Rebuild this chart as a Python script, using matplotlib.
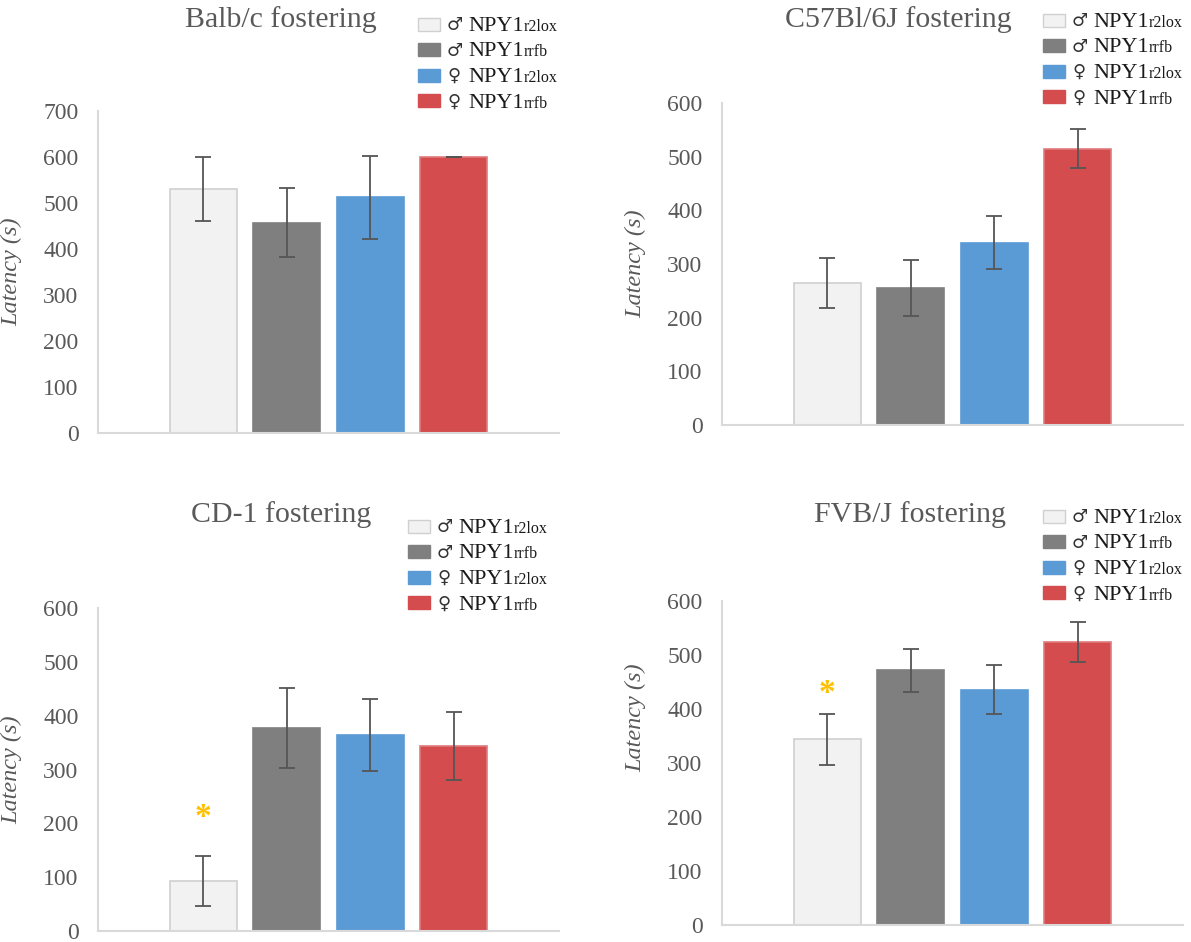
import matplotlib
matplotlib.use("Agg")
import matplotlib.pyplot as plt
from matplotlib.patches import Rectangle

W, H = 1191, 942

titles = ["Balb/c fostering", "C57Bl/6J fostering", "CD-1 fostering", "FVB/J fostering"]
sexes = ["\u2642", "\u2642", "\u2640", "\u2640"]
suffixes = ["r2lox", "rrfb", "r2lox", "rrfb"]
colors = ["#f2f2f2", "#7f7f7f", "#5b9bd5", "#d44c4e"]

balb_mean = [530, 457, 512, 600]
balb_err = [70, 75, 90, 0]
c57_mean = [265, 255, 340, 515]
c57_err = [47, 52, 50, 37]
cd1_mean = [93, 377, 364, 344]
cd1_err = [47, 74, 67, 63]
fvb_mean = [344, 472, 436, 524]
fvb_err = [47, 40, 45, 37]
y_max = [700, 600, 600, 600]
star_y = [None, None, 210, 428]   # significance star over first bar

means = [balb_mean, c57_mean, cd1_mean, fvb_mean]
errs = [balb_err, c57_err, cd1_err, fvb_err]

# layout in pixels: (left, top, right, bottom) of each plot area
axes_px = [(98, 111, 559, 433), (722, 103, 1183, 425),
           (98, 608, 559, 931), (722, 601, 1183, 925)]
title_px = [(281, 20), (898, 20), (281, 515), (910, 515)]
legend_px = [(418, 24), (1043, 20), (408, 526), (1043, 516)]
ylabel_y = [0.5, 0.5, 0.5, 0.64]

TXT = "#595959"
SERIF = ["Liberation Serif", "DejaVu Sans"]

plt.rcParams["font.family"] = SERIF

fig = plt.figure(figsize=(W / 100, H / 100), dpi=100)


def fx(x):
    return x / W


def fy(y):
    return 1 - y / H


for k in range(4):
    l, t, r, b = axes_px[k]
    ax = fig.add_axes([fx(l), fy(b), (r - l) / W, (b - t) / H])
    xs = [0.5 + (i - 1.5) * 0.181 for i in range(4)]
    edges = ["#d0d0d0", "#7f7f7f", "#5b9bd5", "#e07a7c"]
    ax.bar(xs, means[k], width=0.145, color=colors, edgecolor=edges,
           linewidth=1.2, zorder=2)
    ax.errorbar(xs, means[k], yerr=errs[k], fmt="none", ecolor="#555555",
                elinewidth=1.3, capsize=5.5, capthick=1.3, zorder=3)
    if star_y[k] is not None:
        ax.text(xs[0], star_y[k], "*", color="#ffc000", fontsize=24,
                fontweight="bold", ha="center", va="center", zorder=4)
    ax.set_xlim(0, 1)
    ax.set_ylim(0, y_max[k])
    ax.set_yticks(range(0, y_max[k] + 1, 100))
    ax.set_xticks([])
    ax.tick_params(axis="y", length=0, pad=14, labelsize=17, labelcolor=TXT)
    for s in ["top", "right"]:
        ax.spines[s].set_visible(False)
    for s in ["left", "bottom"]:
        ax.spines[s].set_color("#d9d9d9")
        ax.spines[s].set_linewidth(1.5)
    ax.set_ylabel("Latency (s)", fontsize=17.5, style="italic", color=TXT)
    ax.yaxis.set_label_coords(-0.165, ylabel_y[k])
    ax.patch.set_alpha(0)

    tx, ty = title_px[k]
    fig.text(fx(tx), fy(ty), titles[k], fontsize=21.5, color=TXT,
             ha="center", va="center")

renderer = fig.canvas.get_renderer()
for k in range(4):
    px, py = legend_px[k]
    for i in range(4):
        cy = py + i * 25.5
        fig.add_artist(Rectangle((fx(px), fy(cy + 6.5)), 22 / W, 13 / H,
                                 transform=fig.transFigure, facecolor=colors[i],
                                 edgecolor="#d0d0d0" if i == 0 else colors[i],
                                 linewidth=1))
        fig.text(fx(px + 29), fy(cy + 6), sexes[i], fontsize=13,
                 color="#333333", ha="left", va="baseline",
                 family=["DejaVu Sans"])
        t1 = fig.text(fx(px + 50), fy(cy + 7), "NPY1", fontsize=16,
                      color="#1a1a1a", ha="left", va="baseline")
        bb = t1.get_window_extent(renderer)
        fig.text(bb.x1 / W, fy(cy + 7), suffixes[i], fontsize=11.5,
                 color="#1a1a1a", ha="left", va="baseline")

fig.savefig("out.png", dpi=100)
